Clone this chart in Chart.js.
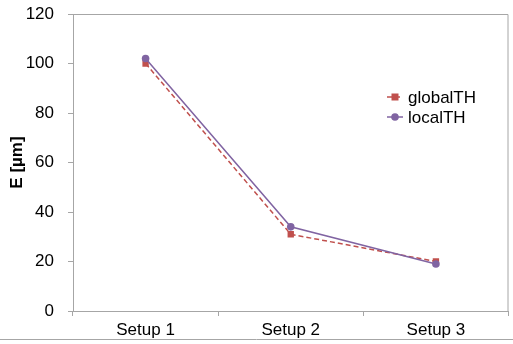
<!DOCTYPE html>
<html>
<head>
<meta charset="utf-8">
<script src="https://cdn.jsdelivr.net/npm/chart.js@4.4.1/dist/chart.umd.min.js"></script>
<style>
  html, body { margin: 0; padding: 0; background: #ffffff; }
  #wrap { width: 513px; height: 344px; position: relative; }
</style>
</head>
<body>
<div id="wrap"><canvas id="c" width="513" height="344"></canvas></div>
<script>
// Measurement setups on the x axis
const categories = ['Setup 1', 'Setup 2', 'Setup 3'];
// Error E in micrometres for each threshold method
const globalTH = [100, 31, 20];
const localTH = [102, 34, 19];
// Value axis range and step
const yMin = 0;
const yMax = 120;
const yStep = 20;

const FONT = '"Liberation Sans", Arial, sans-serif';
const GRAY = '#a6a6a6';
const RED = '#c0504d';
const PURPLE = '#8064a2';

// Frame around the plot area plus the rule along the bottom edge
const framePlugin = {
  id: 'frame',
  afterDraw(chart) {
    const { ctx, chartArea: a, width, height } = chart;
    ctx.save();
    ctx.strokeStyle = GRAY;
    ctx.lineWidth = 1;
    ctx.beginPath();
    ctx.moveTo(a.left, a.top + 0.5);
    ctx.lineTo(a.right - 0.5, a.top + 0.5);
    ctx.lineTo(a.right - 0.5, a.bottom);
    ctx.moveTo(0, height - 4.5);
    ctx.lineTo(width, height - 4.5);
    ctx.stroke();
    ctx.restore();
  }
};

// Legend drawn inside the plot: short line sample, marker, label
const legendPlugin = {
  id: 'innerLegend',
  afterDraw(chart) {
    const { ctx } = chart;
    const x0 = 387, x1 = 403, mx = 395, tx = 408;
    const rows = [97, 117];
    ctx.save();
    chart.data.datasets.forEach((ds, i) => {
      const y = rows[i];
      ctx.strokeStyle = ds.borderColor;
      ctx.lineWidth = 1.5;
      ctx.setLineDash(ds.borderDash || []);
      ctx.beginPath();
      ctx.moveTo(x0, y);
      ctx.lineTo(x1, y);
      ctx.stroke();
      ctx.setLineDash([]);
      ctx.fillStyle = ds.pointBackgroundColor;
      if (ds.pointStyle === 'rect') {
        ctx.fillRect(mx - 3.5, y - 3.5, 7, 7);
      } else {
        ctx.beginPath();
        ctx.arc(mx, y, 3.8, 0, Math.PI * 2);
        ctx.fill();
      }
      ctx.fillStyle = '#000000';
      ctx.font = '17px ' + FONT;
      ctx.textBaseline = 'middle';
      ctx.textAlign = 'left';
      ctx.fillText(ds.label, tx, y + 1);
    });
    ctx.restore();
  }
};

new Chart(document.getElementById('c'), {
  type: 'line',
  data: {
    labels: categories,
    datasets: [
      {
        label: 'globalTH',
        data: globalTH,
        borderColor: RED,
        backgroundColor: RED,
        pointBackgroundColor: RED,
        pointBorderColor: RED,
        borderWidth: 1.5,
        borderDash: [5, 3],
        pointStyle: 'rect',
        pointRadius: 4.5,
        pointBorderWidth: 0,
        tension: 0,
        order: 2
      },
      {
        label: 'localTH',
        data: localTH,
        borderColor: PURPLE,
        backgroundColor: PURPLE,
        pointBackgroundColor: PURPLE,
        pointBorderColor: PURPLE,
        borderWidth: 1.5,
        pointStyle: 'circle',
        pointRadius: 3.8,
        pointBorderWidth: 0,
        tension: 0,
        order: 1
      }
    ]
  },
  options: {
    responsive: false,
    animation: false,
    devicePixelRatio: 1,
    layout: { padding: { left: 0, top: 14, right: 1, bottom: 0 } },
    plugins: {
      legend: { display: false },
      tooltip: { enabled: false }
    },
    scales: {
      x: {
        offset: true,
        grid: {
          offset: true,
          drawOnChartArea: false,
          drawTicks: true,
          tickLength: 5,
          color: GRAY
        },
        border: { display: true, color: GRAY },
        ticks: {
          color: '#000000',
          font: { family: FONT, size: 17 },
          padding: 4,
          maxRotation: 0
        },
        afterFit(scale) {
          scale.height = 33;
          scale.paddingLeft = 0;
          scale.paddingRight = 0;
        }
      },
      y: {
        min: yMin,
        max: yMax,
        grid: {
          drawOnChartArea: false,
          drawTicks: true,
          tickLength: 5,
          color: GRAY
        },
        border: { display: true, color: GRAY },
        ticks: {
          stepSize: yStep,
          color: '#000000',
          font: { family: FONT, size: 17 },
          padding: 14
        },
        title: {
          display: true,
          text: 'E [µm]',
          color: '#000000',
          font: { family: FONT, size: 17, weight: 'bold' },
          padding: { top: 7, bottom: 0 }
        },
        afterFit(scale) {
          scale.width = 73;
          scale.paddingTop = 0;
          scale.paddingBottom = 0;
        }
      }
    }
  },
  plugins: [framePlugin, legendPlugin]
});
</script>
</body>
</html>
